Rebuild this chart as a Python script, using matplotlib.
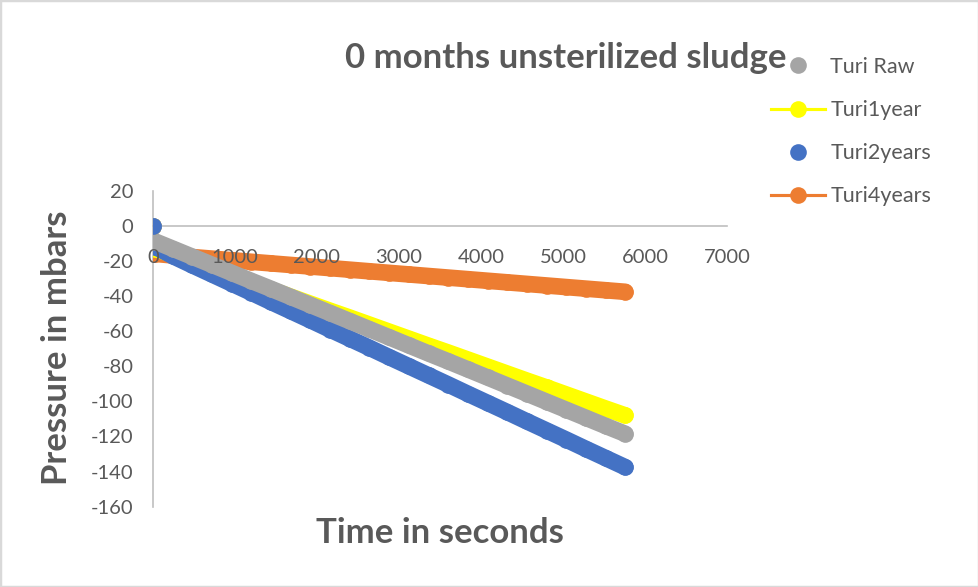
import matplotlib
matplotlib.use("Agg")
import matplotlib.pyplot as plt
from matplotlib.lines import Line2D
from matplotlib.patches import Rectangle

plt.rcParams['font.family'] = ['Lato', 'DejaVu Sans']

# Elapsed time (s) at which each reading was taken
time_s = [0, 30, 240, 480, 720, 960, 1200, 1440, 1680, 1920, 2160, 2400, 2640,
          2880, 3120, 3360, 3600, 3840, 4080, 4320, 4560, 4800, 5040, 5280,
          5520, 5760]

# Pressure readings (mbar)
turi_raw = [0, -9.0, -13.0, -17.6, -22.2, -26.8, -31.4, -35.9, -40.5, -45.1,
            -49.7, -54.3, -58.9, -63.5, -68.1, -72.7, -77.2, -81.8, -86.4,
            -91.0, -95.6, -100.2, -104.8, -109.4, -114.0, -118.5]
turi_1year = [0, -13.0, -16.5, -20.5, -24.5, -28.4, -32.4, -36.4, -40.4,
              -44.4, -48.4, -52.3, -56.3, -60.3, -64.3, -68.3, -72.2, -76.2,
              -80.2, -84.2, -88.2, -92.1, -96.1, -100.1, -104.1, -108.0]
turi_2years = [0, -12.0, -17.2, -22.5, -27.7, -32.9, -38.1, -43.4, -48.6,
               -53.8, -59.1, -64.3, -69.5, -74.8, -80.0, -85.2, -90.4, -95.7,
               -100.9, -106.1, -111.4, -116.6, -121.8, -127.1, -132.3, -137.5]
turi_4years = [0, -16.0, -16.9, -17.8, -18.7, -19.6, -20.5, -21.4, -22.3,
               -23.2, -24.1, -25.0, -25.9, -26.8, -27.7, -28.6, -29.5, -30.4,
               -31.3, -32.2, -33.1, -34.0, -34.9, -35.8, -36.7, -37.6]

series_names = ["Turi Raw", "Turi1year", "Turi2years", "Turi4years"]
x_ticks = [0, 1000, 2000, 3000, 4000, 5000, 6000, 7000]
y_ticks = [-160, -140, -120, -100, -80, -60, -40, -20, 0, 20]

C_GRAY = "#A5A5A5"
C_YEL = "#FFFF00"
C_BLUE = "#4472C4"
C_ORG = "#ED7D31"
TXT = "#595959"
AXC = "#BFBFBF"

fig = plt.figure(figsize=(9.79, 5.87), dpi=100)
fig.patches.append(Rectangle((0, 0), 1, 1, transform=fig.transFigure,
                             fill=False, edgecolor="#D9D9D9", lw=2.5))

ax = fig.add_axes([153 / 979, 1 - 506.7 / 587, (727 - 153) / 979,
                   (506.7 - 190.7) / 587])
ax.set_xlim(0, 7000)
ax.set_ylim(-160, 20)

MS = 12.0   # marker diameter in points
BAND = 12.0

def draw_series(y, color, z, with_line):
    if with_line:
        ax.plot(time_s, y, color=color, lw=2.25, zorder=z)
    # dense readings form a continuous band of markers
    ax.plot(time_s[1:], y[1:], color=color, lw=BAND, solid_capstyle="round",
            solid_joinstyle="round", zorder=z)
    ax.plot(time_s[1:], y[1:], "o", color=color, ms=MS, mec="none", zorder=z)
    ax.plot(time_s[:1], y[:1], "o", color=color, ms=MS, mec="none",
            zorder=z + 10)

draw_series(turi_4years, C_ORG, 2, True)
draw_series(turi_1year, C_YEL, 3, True)
draw_series(turi_2years, C_BLUE, 4, False)
draw_series(turi_raw, C_GRAY, 5, False)
# the starting reading of Turi2years sits on top
ax.plot(time_s[:1], turi_2years[:1], "o", color=C_BLUE, ms=MS, mec="none",
        zorder=30)

for s in ["top", "right"]:
    ax.spines[s].set_visible(False)
ax.spines["bottom"].set_position(("data", 0))
ax.spines["left"].set_position(("data", 0))
for s in ["bottom", "left"]:
    ax.spines[s].set_color(AXC)
    ax.spines[s].set_linewidth(1.2)
    ax.spines[s].set_zorder(0.5)

ax.set_xticks(x_ticks)
ax.set_xticklabels([str(v) for v in x_ticks])
ax.set_yticks(y_ticks)
ax.set_yticklabels([str(v) for v in y_ticks])
ax.tick_params(axis="both", length=0, labelsize=14.5, labelcolor=TXT)
ax.tick_params(axis="x", pad=16.5)
ax.tick_params(axis="y", pad=14)
ax.xaxis.set_zorder(50)
ax.yaxis.set_zorder(50)

fig.text(566 / 979, 1 - 58 / 587, "0 months unsterilized sludge",
         ha="center", va="center", fontsize=25, fontweight="bold", color=TXT)
fig.text(440 / 979, 1 - 533 / 587, "Time in seconds", ha="center",
         va="center", fontsize=25, fontweight="bold", color=TXT)
fig.text(57 / 979, 1 - 348 / 587, "Pressure in mbars", ha="center",
         va="center", rotation=90, fontsize=25, fontweight="bold", color=TXT)

handles = [
    Line2D([], [], ls="none", marker="o", ms=MS, color=C_GRAY, mec="none"),
    Line2D([], [], lw=2.25, marker="o", ms=MS, color=C_YEL, mec="none"),
    Line2D([], [], ls="none", marker="o", ms=MS, color=C_BLUE, mec="none"),
    Line2D([], [], lw=2.25, marker="o", ms=MS, color=C_ORG, mec="none"),
]
leg = fig.legend(handles, series_names, loc="upper left",
                 bbox_to_anchor=(771 / 979, 1 - 57 / 587), frameon=False,
                 fontsize=15.5, labelspacing=1.07, handlelength=2.5,
                 handletextpad=0.25, borderpad=0, borderaxespad=0)
for t in leg.get_texts():
    t.set_color(TXT)

fig.savefig("out.png", dpi=100)
